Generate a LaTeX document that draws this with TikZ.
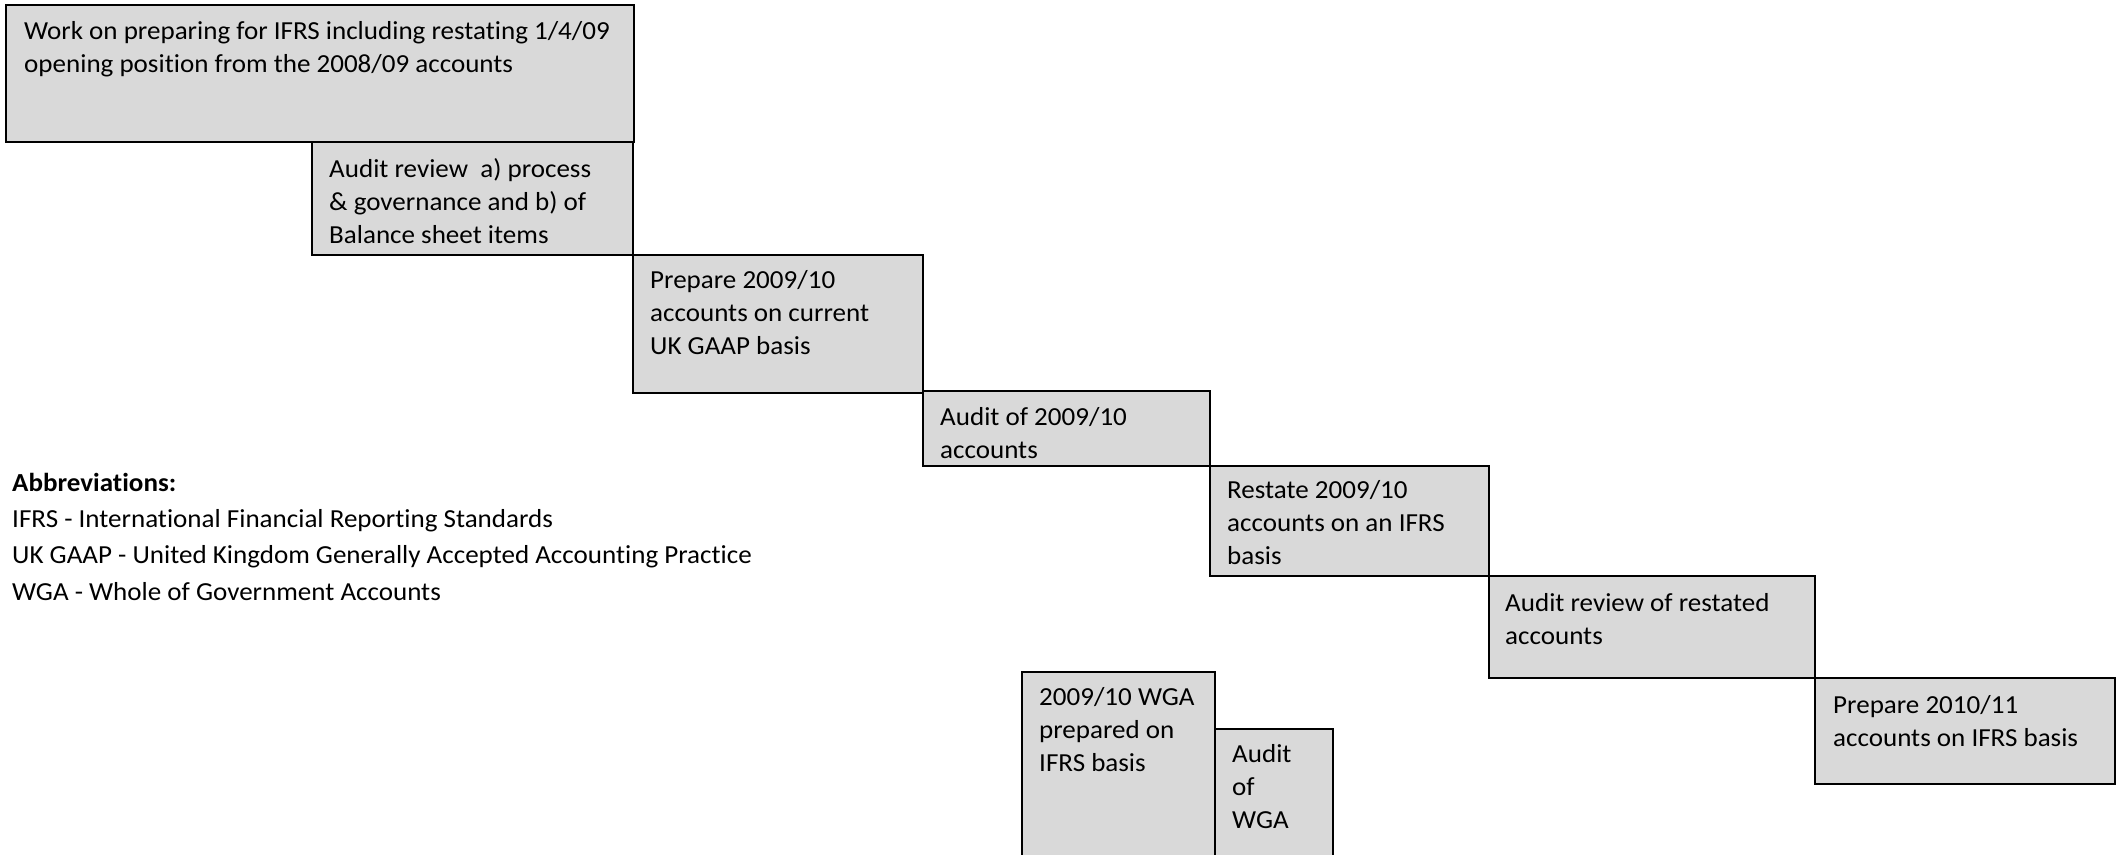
\documentclass[tikz,border=0pt]{standalone}
\usepackage{fontspec}
\setmainfont{Carlito}[Ligatures=NoCommon, FakeStretch=1.04]
\usetikzlibrary{calc}
\definecolor{boxgrey}{HTML}{D9D9D9}
\newcommand\lst{\rule{0pt}{22pt}}
\tikzset{
  box/.style={draw=black, fill=boxgrey, line width=1.7pt, rectangle, inner sep=0pt, anchor=north west},
  boxtext/.style={anchor=north west, inner sep=0pt, align=left, font=\fontsize{26}{33}\selectfont},
  abbtext/.style={anchor=north west, inner sep=0pt, align=left, font=\fontsize{26}{36.3}\selectfont}
}
\begin{document}
\begin{tikzpicture}[x=1pt,y=-1pt]
\useasboundingbox (0,0) rectangle (2117,854);
\clip (0,0) rectangle (2117,854);
% boxes
\node[box, minimum width=628pt, minimum height=137pt] (b1) at (5,4) {};
\node[box, minimum width=321pt, minimum height=113pt] (b2) at (311,141) {};
\node[box, minimum width=290pt, minimum height=138pt] (b3) at (632,254) {};
\node[box, minimum width=287pt, minimum height=75pt] (b4) at (922,390) {};
\node[box, minimum width=279pt, minimum height=110pt] (b5) at (1209,465) {};
\node[box, minimum width=326pt, minimum height=102pt] (b6) at (1488,575) {};
\node[box, minimum width=300pt, minimum height=106pt] (b7) at (1814,677) {};
\node[box, minimum width=193pt, minimum height=200pt] (wga) at (1021,671) {};
\node[box, minimum width=118pt, minimum height=150pt] (aw) at (1214,728) {};
% texts
\node[boxtext] (t1) at ($(b1.north west)+(19,13)$) {\lst Work on preparing for IFRS including restating 1/4/09\\opening position from the 2008/09 accounts};
\node[boxtext] (t2) at ($(b2.north west)+(18,14)$) {\lst Audit review~ a) process\\\& governance and b) of\\Balance sheet items};
\node[boxtext] (t3) at ($(b3.north west)+(18,12)$) {\lst Prepare 2009/10\\accounts on current\\UK GAAP basis};
\node[boxtext] (t4) at ($(b4.north west)+(18,13)$) {\lst Audit of 2009/10\\accounts};
\node[boxtext] (t5) at ($(b5.north west)+(18,11)$) {\lst Restate 2009/10\\accounts on an IFRS\\basis};
\node[boxtext] (t6) at ($(b6.north west)+(17,14)$) {\lst Audit review of restated\\accounts};
\node[boxtext] (t7) at ($(b7.north west)+(19,14)$) {\lst Prepare 2010/11\\accounts on IFRS basis};
\node[boxtext] (tw) at ($(wga.north west)+(18,12)$) {\lst 2009/10 WGA\\prepared on\\IFRS basis};
\node[boxtext] (ta) at ($(aw.north west)+(18,12)$) {\lst Audit\\of\\WGA};
% abbreviations
\node[abbtext] (abb) at (12,469) {\lst\textbf{Abbreviations:}\\IFRS - International Financial Reporting Standards\\UK GAAP - United Kingdom Generally Accepted Accounting Practice\\WGA - Whole of Government Accounts};
\end{tikzpicture}
\end{document}
